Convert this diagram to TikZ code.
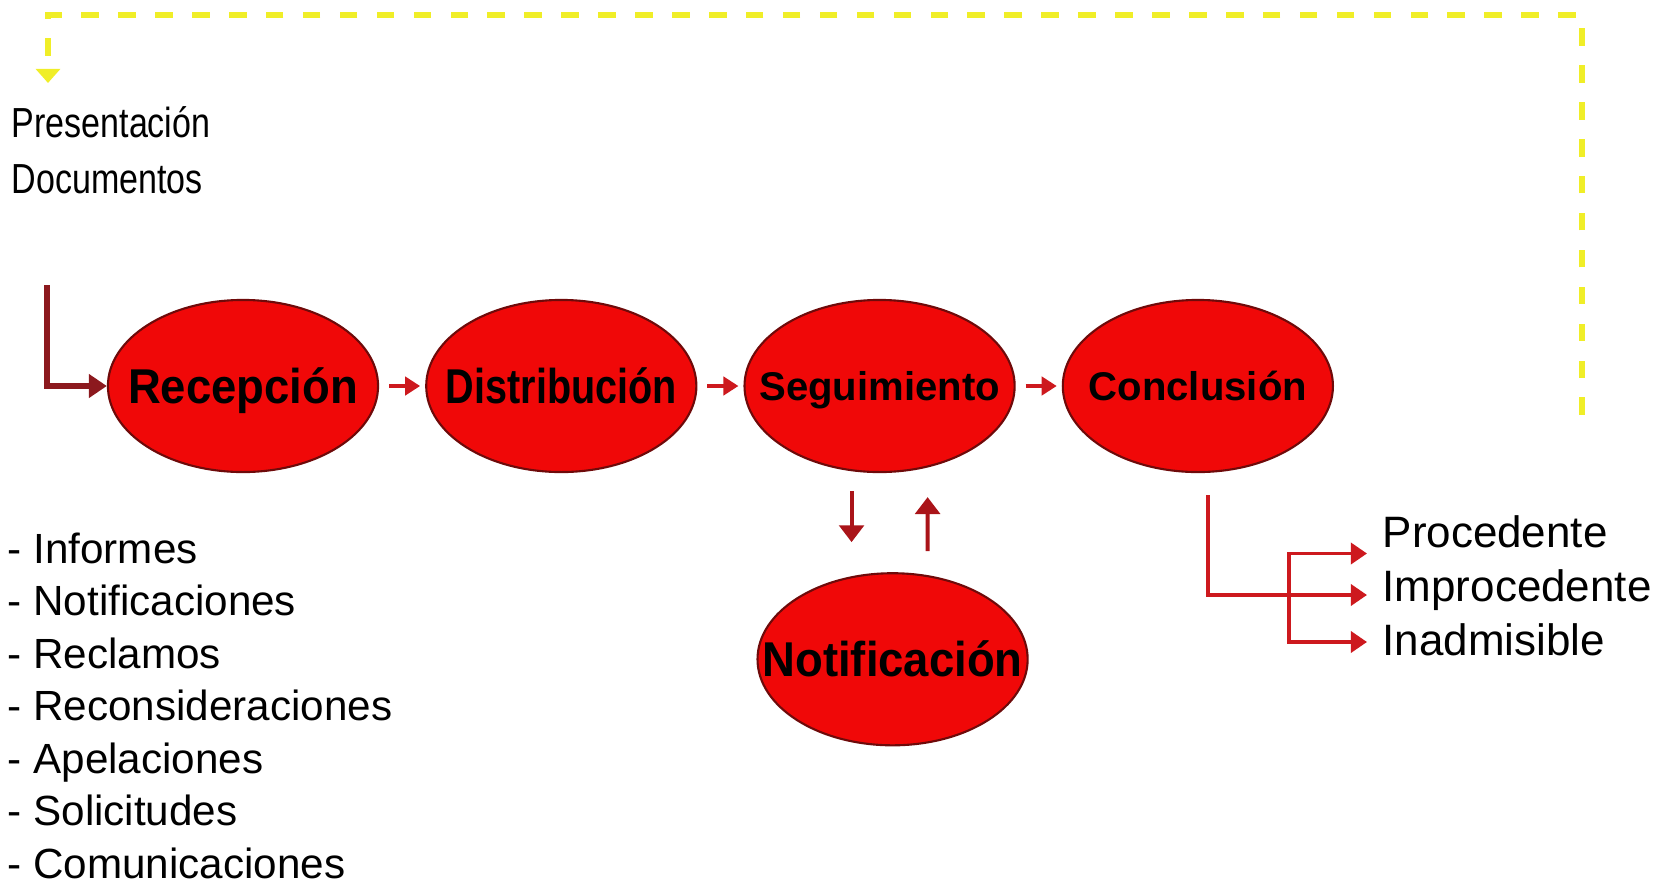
\documentclass[tikz,border=0pt]{standalone}
\usepackage{fontspec}
\setmainfont{Liberation Sans}
\newfontfamily\estrecha[FakeStretch=0.81]{Liberation Sans}
\newfontfamily\etapafont[FakeStretch=0.93]{Liberation Sans}
\newfontfamily\etapafina[FakeStretch=0.81]{Liberation Sans}
\newfontfamily\etapaancha[FakeStretch=1.0]{Liberation Sans}
\usepackage{tikz}
\usetikzlibrary{arrows.meta}
\usetikzlibrary{shapes}
\usetikzlibrary{positioning}
\definecolor{rojo}{RGB}{240,8,8}
\definecolor{borde}{RGB}{110,10,10}
\definecolor{granate}{RGB}{140,25,30}
\definecolor{oscuro}{RGB}{170,20,25}
\definecolor{vivo}{RGB}{205,25,30}
\definecolor{amarillo}{RGB}{240,238,40}
\tikzset{
    etapa/.style={ellipse, draw=borde, fill=rojo, line width=0.6pt,
        minimum width=2.7cm, minimum height=1.72cm, inner sep=0pt},
    etiqueta/.style={font={\etapafont\bfseries\fontsize{13.9}{16}\selectfont}, inner sep=0pt,
        text height=0.35cm, text depth=0cm},
    etiquetafina/.style={etiqueta, font={\etapafina\bfseries\fontsize{13.9}{16}\selectfont}},
    etiquetachica/.style={font={\etapaancha\bfseries\fontsize{11.4}{13}\selectfont}, inner sep=0pt,
        text height=0.29cm, text depth=0cm},
    resultado/.style={font={\fontsize{12.5}{15}\selectfont}, inner sep=0pt,
        text height=0.32cm, text depth=0.09cm},
    paso/.style={draw=vivo, line width=1.3pt, -{Triangle[length=4.3pt,width=5.2pt]},
        shorten <=0.1cm, shorten >=0.05cm},
    vaiven/.style={draw=oscuro, line width=1.1pt, -{Triangle[length=4.8pt,width=7pt]}},
    rama/.style={draw=vivo, line width=1.05pt, -{Triangle[length=4.6pt,width=6pt]},
        shorten >=0.15cm},
    acceso/.style={draw=granate, line width=1.45pt, -{Triangle[length=5.1pt,width=6.5pt]}},
    aviso/.style={draw=amarillo, line width=1.45pt, dash pattern=on 5pt off 5.5pt,
        -{Triangle[length=4pt,width=6.8pt]}},
}

\begin{document}
\begin{tikzpicture}[x=0.01cm, y=-0.01cm, node distance=0.46cm]
	\useasboundingbox (0,0) rectangle (1668,884);
	% etapas
	\node[etapa, label={[etiqueta]center:Recepción}] (recep) at (243,386) {};
	\node[etapa, right=of recep, label={[etiquetafina]center:Distribución}] (distr) {};
	\node[etapa, right=of distr, label={[etiquetachica]center:Seguimiento}] (segui) {};
	\node[etapa, right=of segui, label={[etiquetachica]center:Conclusión}] (concl) {};
	\node[etapa, below=0.99cm of segui, xshift=0.13cm, label={[etiqueta]center:Notificación}] (notif) {};
	% textos
	\node[anchor=north west, align=left, inner sep=0pt,
		font={\estrecha\fontsize{11.95}{15.93}\selectfont}] (pres) at (11,106) {Presentación\\Documentos};
	\node[anchor=north west, align=left, inner sep=0pt,
		font={\fontsize{12}{14.94}\selectfont}] (tipos) at (7,532)
		{- Informes\\- Notificaciones\\- Reclamos\\- Reconsideraciones\\- Apelaciones\\- Solicitudes\\- Comunicaciones};
	\node[resultado, anchor=base west] (proc) at (1382,547) {Procedente};
	\node[resultado, anchor=base west] (improc) at (1382,601) {Improcedente};
	\node[resultado, anchor=base west] (inadm) at (1382,655) {Inadmisible};
	\coordinate (retorno) at (1582,415);
	\coordinate (cima) at (1582,15);
	\coordinate (llegada) at (48,83);
	\coordinate (inicio) at (47,285);
	\coordinate (bif) at (1289,593);
	% flechas
	\draw[aviso] (retorno) -- (cima) -| (llegada);
	\draw[acceso] (inicio) |- (recep.west);
	\draw[paso] (recep) -- (distr);
	\draw[paso] (distr) -- (segui);
	\draw[paso] (segui) -- (concl);
	\draw[vaiven, shorten <=0.18cm, shorten >=0.3cm] ([xshift=-0.28cm]segui.south) -- ([xshift=-0.41cm]notif.north);
	\draw[vaiven, shorten <=0.21cm, shorten >=0.24cm] ([xshift=0.35cm]notif.north) -- ([xshift=0.48cm]segui.south);
	\draw[rama, shorten <=0.22cm] ([xshift=0.1cm]concl.south) |- ([yshift=-0.055cm]improc.west);
	\draw[rama] (bif) |- ([yshift=-0.18cm]proc.west);
	\draw[rama] (bif) |- ([yshift=0.015cm]inadm.west);
\end{tikzpicture}
\end{document}
